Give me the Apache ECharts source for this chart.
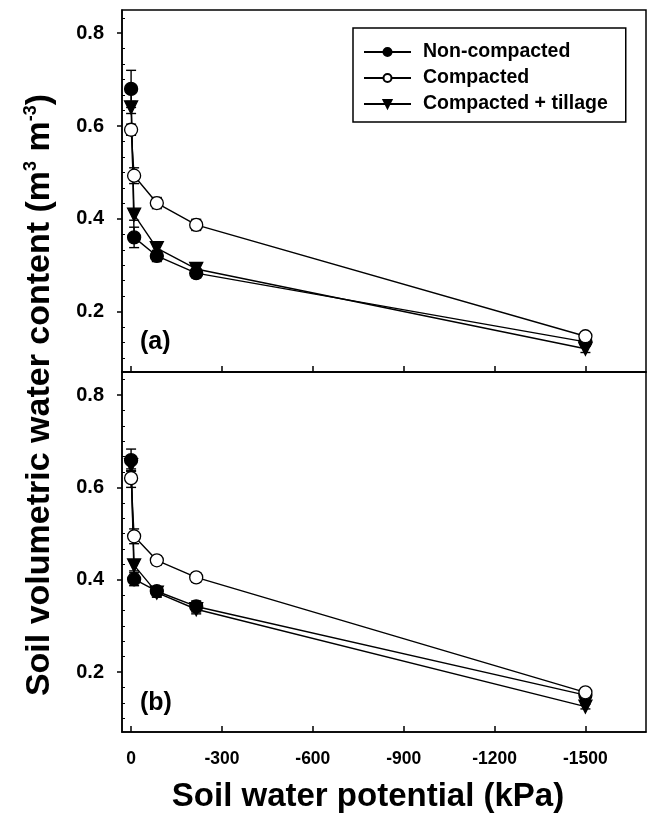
<!DOCTYPE html>
<html><head><meta charset="utf-8">
<script src="https://cdn.jsdelivr.net/npm/echarts@6/dist/echarts.min.js"></script>
<style>html,body{margin:0;padding:0;background:#fff}#c{width:652px;height:816px}</style>
</head><body><div id="c"></div>
<script>
// Soil water potential (kPa)
const potentials = [0, -10, -85, -215, -1500];
const seriesNames = ['Non-compacted', 'Compacted', 'Compacted + tillage'];
// Panel (a)
const nonCompactedA = [0.680, 0.360, 0.320, 0.283, 0.135];
const compactedA    = [0.592, 0.493, 0.434, 0.387, 0.147];
const tillageA      = [0.640, 0.409, 0.337, 0.292, 0.120];
const nonCompactedAErr = [0.040, 0.022, 0.012, 0.010, 0.006];
const compactedAErr    = [0.012, 0.017, 0.012, 0.012, 0.006];
const tillageAErr      = [0.013, 0.012, 0.012, 0.010, 0.008];
// Panel (b)
const nonCompactedB = [0.659, 0.401, 0.375, 0.342, 0.150];
const compactedB    = [0.620, 0.494, 0.442, 0.405, 0.156];
const tillageB      = [0.648, 0.431, 0.372, 0.336, 0.125];
const nonCompactedBErr = [0.024, 0.014, 0.010, 0.012, 0.006];
const compactedBErr    = [0.020, 0.016, 0.010, 0.010, 0.006];
const tillageBErr      = [0.012, 0.012, 0.010, 0.010, 0.005];
// Tick labels
const xTicks = [0, -300, -600, -900, -1200, -1500];
const yTicks = [0.2, 0.4, 0.6, 0.8];

const minorY = [];
for (let i = 3; i <= 25; i++) { const v = +(i / 30).toFixed(4); if (i % 6 !== 0) minorY.push(v); }

const FONT = 'Liberation Sans, Arial, sans-serif';
const chart = echarts.init(document.getElementById('c'));

function pts(ys) { return potentials.map((x, i) => [x, ys[i]]); }
function errData(ys, es) { return potentials.map((x, i) => [x, ys[i] - es[i], ys[i] + es[i]]); }

const styles = [
  { symbol: 'circle', color: '#000', border: '#000', rotate: 0 },
  { symbol: 'circle', color: '#fff', border: '#000', rotate: 0 },
  { symbol: 'triangle', color: '#000', border: '#000', rotate: 180 }
];

function lineSeries(idx, ys, grid) {
  const s = styles[idx];
  return {
    name: seriesNames[idx], type: 'line', xAxisIndex: grid, yAxisIndex: grid * 2,
    data: pts(ys), symbol: s.symbol, symbolSize: 13,
    symbolRotate: s.rotate, showAllSymbol: true,
    lineStyle: { color: '#000', width: 1.4 },
    itemStyle: { color: s.color, borderColor: s.border, borderWidth: 1.3 },
    z: 3 + (idx === 1 ? 1 : 0), animation: false
  };
}
function errSeries(ys, es, grid) {
  return {
    type: 'custom', xAxisIndex: grid, yAxisIndex: grid * 2, data: errData(ys, es), z: 2,
    animation: false, silent: true,
    renderItem: function (params, api) {
      const x = api.value(0);
      const lo = api.coord([x, api.value(1)]);
      const hi = api.coord([x, api.value(2)]);
      const w = 5;
      const st = { stroke: '#000', lineWidth: 1.4 };
      return { type: 'group', children: [
        { type: 'line', shape: { x1: lo[0], y1: lo[1], x2: hi[0], y2: hi[1] }, style: st },
        { type: 'line', shape: { x1: lo[0] - w, y1: lo[1], x2: lo[0] + w, y2: lo[1] }, style: st },
        { type: 'line', shape: { x1: hi[0] - w, y1: hi[1], x2: hi[0] + w, y2: hi[1] }, style: st }
      ] };
    }
  };
}

function xAxis(grid, showLabel) {
  return {
    type: 'value', gridIndex: grid, inverse: true, min: -1700, max: 30,
    splitLine: { show: false },
    axisLine: { show: true, onZero: false, lineStyle: { color: '#000', width: 1.5 } },
    axisTick: { show: true, inside: true, length: 6, customValues: xTicks, lineStyle: { color: '#000', width: 1.5 } },
    axisLabel: { show: showLabel, customValues: xTicks, formatter: v => String(v), color: '#000',
      fontFamily: FONT, fontWeight: 'bold', fontSize: 17.5, margin: 18 }
  };
}
function yAxes(grid) {
  return [{
    type: 'value', gridIndex: grid, min: 0.07, max: 0.85, position: 'left',
    splitLine: { show: false },
    axisLine: { show: true, onZero: false, lineStyle: { color: '#000', width: 1.5 } },
    axisTick: { show: true, inside: false, length: 5, customValues: yTicks, lineStyle: { color: '#000', width: 1.5 } },
    axisLabel: { customValues: yTicks, formatter: v => v.toFixed(1), color: '#000',
      fontFamily: FONT, fontWeight: 'bold', fontSize: 20, margin: 18 }
  }, {
    type: 'value', gridIndex: grid, min: 0.07, max: 0.85, position: 'left',
    splitLine: { show: false }, axisLine: { show: false, onZero: false },
    axisTick: { show: true, inside: true, length: 3, customValues: minorY, lineStyle: { color: '#000', width: 1 } },
    axisLabel: { show: false }
  }];
}

const option = {
  backgroundColor: '#fff',
  animation: false,
  grid: [
    { left: 122, top: 10, width: 524, height: 362, show: true, borderColor: '#000', borderWidth: 1.5, backgroundColor: 'transparent' },
    { left: 122, top: 372, width: 524, height: 360, show: true, borderColor: '#000', borderWidth: 1.5, backgroundColor: 'transparent' }
  ],
  xAxis: [xAxis(0, false), xAxis(1, true)],
  yAxis: [...yAxes(0), ...yAxes(1)],
  legend: {
    data: seriesNames, orient: 'vertical', left: 353, top: 28, width: 270,
    backgroundColor: '#fff', borderColor: '#000', borderWidth: 1.5,
    padding: [14, 18, 8, 10], itemGap: 6, itemWidth: 47, itemHeight: 10,
    textStyle: { color: '#000', fontFamily: FONT, fontWeight: 'bold', fontSize: 19.5, padding: [0, 0, 0, 7] }
  },
  graphic: [
    { type: 'text', left: 140, top: 330, style: { text: '(a)', fill: '#000', font: 'bold 25px ' + FONT } },
    { type: 'text', left: 140, top: 691, style: { text: '(b)', fill: '#000', font: 'bold 25px ' + FONT } },
    { type: 'text', x: 368, y: 797, style: { text: 'Soil water potential (kPa)', fill: '#000', font: 'bold 33px ' + FONT, align: 'center', verticalAlign: 'middle' } },
    { type: 'text', x: 40, y: 395, rotation: Math.PI / 2,
      style: { text: 'Soil volumetric water content (m{sup|3} m{sup|-3})', fill: '#000', align: 'center', verticalAlign: 'middle',
        fontSize: 34, fontFamily: FONT, fontWeight: 'bold',
        rich: { sup: { fontSize: 18, fontFamily: FONT, fontWeight: 'bold', verticalAlign: 'top', padding: [0, 0, 18, 0], fill: '#000' } } } }
  ],
  series: [
    errSeries(nonCompactedA, nonCompactedAErr, 0), errSeries(compactedA, compactedAErr, 0), errSeries(tillageA, tillageAErr, 0),
    errSeries(nonCompactedB, nonCompactedBErr, 1), errSeries(compactedB, compactedBErr, 1), errSeries(tillageB, tillageBErr, 1),
    lineSeries(0, nonCompactedA, 0), lineSeries(2, tillageA, 0), lineSeries(1, compactedA, 0),
    lineSeries(0, nonCompactedB, 1), lineSeries(2, tillageB, 1), lineSeries(1, compactedB, 1)
  ]
};
chart.setOption(option);
</script></body></html>
